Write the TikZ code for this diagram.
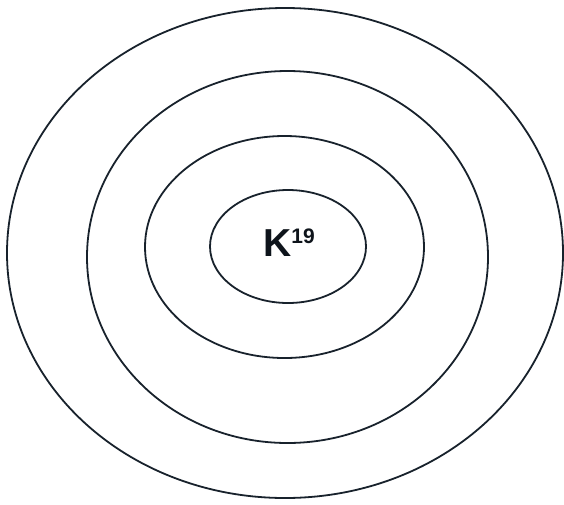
\documentclass[tikz,border=0pt]{standalone}
\usepackage{fontspec}
\setmainfont{Liberation Sans}
\usetikzlibrary{positioning}
\definecolor{ShellInk}{RGB}{24,34,44}

\begin{document}
\begin{tikzpicture}[x=1pt,y=-1pt, shell/.style={draw=ShellInk, line width=1.8pt}]
  \useasboundingbox (0,0) rectangle (564,504);

  \draw[shell] (285,253) ellipse [x radius=278, y radius=245];
  \draw[shell] (287.5,257) ellipse [x radius=200.5, y radius=186];
  \draw[shell] (284.5,247) ellipse [x radius=139.5, y radius=111];
  \draw[shell] (288,246.5) ellipse [x radius=78, y radius=56.5];

  \node[font=\fontsize{39}{39}\selectfont\bfseries, text=ShellInk!60!black, inner sep=0pt] (core) at (289,243)
    {K\raisebox{13pt}{\fontsize{21}{21}\selectfont 19}};
\end{tikzpicture}
\end{document}
